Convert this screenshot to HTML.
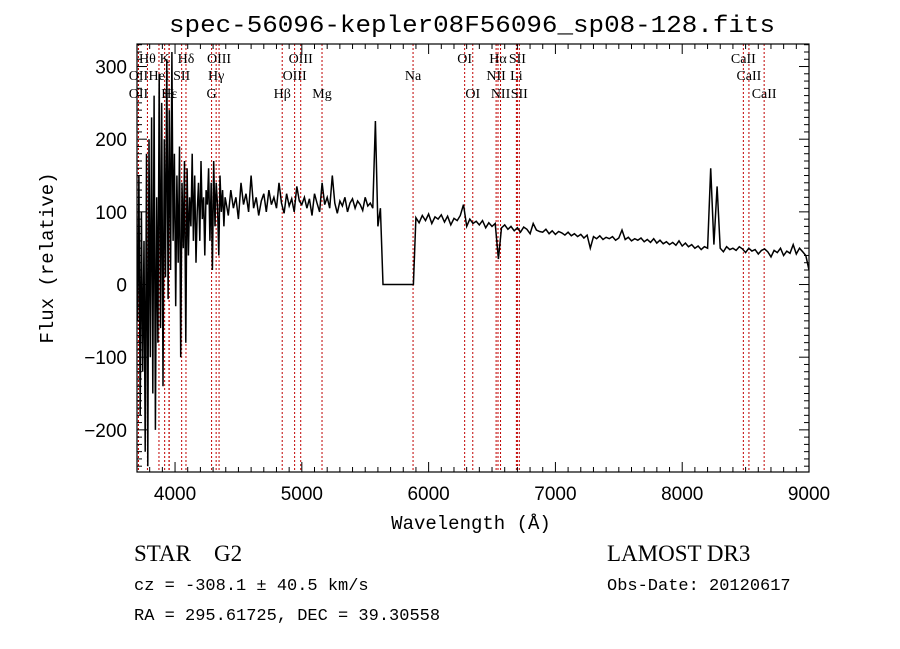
<!DOCTYPE html>
<html><head><meta charset="utf-8"><style>
html,body{margin:0;padding:0;background:#fff;}
svg{display:block;}
</style></head><body>
<svg id="chart" width="900" height="649" xmlns="http://www.w3.org/2000/svg" font-family="Liberation Serif, serif">
<rect width="900" height="649" fill="#fff"/>
<text x="472" y="32" text-anchor="middle" font-family="Liberation Mono, monospace" font-size="24" textLength="606" lengthAdjust="spacingAndGlyphs">spec-56096-kepler08F56096_sp08-128.fits</text>
<g id="lines"></g>
<g id="labels" font-size="14"></g>
<clipPath id="clip"><rect x="137" y="44" width="672" height="428"/></clipPath>
<polyline id="spec" fill="none" stroke="#000" stroke-width="1.5" clip-path="url(#clip)"/>
<rect x="137" y="44" width="672" height="428" fill="none" stroke="#000" stroke-width="1.2"/>
<g id="ticks" stroke="#000" stroke-width="1"></g>
<g id="ticklabels" font-family="Liberation Sans, sans-serif" font-size="19"></g>
<text x="471" y="529" text-anchor="middle" font-family="Liberation Mono, monospace" font-size="19">Wavelength (Å)</text>
<text transform="translate(53,258) rotate(-90)" text-anchor="middle" font-family="Liberation Mono, monospace" font-size="19">Flux (relative)</text>
<text x="134" y="561" font-size="23">STAR</text>
<text x="214" y="561" font-size="23">G2</text>
<text x="607" y="561" font-size="23">LAMOST DR3</text>
<text x="134" y="590" font-family="Liberation Mono, monospace" font-size="17">cz = -308.1 ± 40.5 km/s</text>
<text x="607" y="590" font-family="Liberation Mono, monospace" font-size="17">Obs-Date: 20120617</text>
<text x="134" y="620" font-family="Liberation Mono, monospace" font-size="17">RA = 295.61725, DEC =  39.30558</text>
</svg>
<script>
const blueStart=3705, blueStep=10;
const blueFlux=[-50,150,-180,100,-120,60,-230,180,-250,200,-100,230,-150,260,-200,120,-80,290,-60,250,-140,200,10,310,-20,240,20,320,60,180,-30,150,30,190,-100,140,50,170,-80,160,40,120,80,180,60,150,30,100,140,60,170,90,120,40,130,110,160,60,140,20,170,80,140,110,40,150,100,130,80,120];
const midStart=4400, midStep=20;
const midFlux=[115,95,130,105,120,90,140,110,125,100,150,105,120,95,115,125,100,130,110,120,105,140,112,98,125,108,118,100,135,115,110,120,105,118,95,125,112,100,140,110,120,105,150,112,98,115,108,120,100,112,118,105,115,110,102,120,108,112,105,225,80,105,0,0,0,0,0,0,0,0,0,0,0,0,0];
const redStart=5900, redStep=25;
const redFlux=[92,85,95,88,97,84,93,90,96,86,94,82,91,88,95,110,80,90,84,87,82,88,78,85,80,84,35,78,82,76,80,74,78,72,79,76,70,84,75,73,72,76,70,74,69,73,71,68,72,67,70,66,69,64,68,50,66,63,67,62,65,63,66,61,64,75,62,65,60,63,61,64,59,62,58,63,57,61,56,59,55,58,54,60,53,57,52,55,50,53,48,52,50,160,55,135,50,45,52,48,50,47,52,49,44,50,46,48,42,47,49,45,38,47,44,50,40,46,43,55,42,50,45,40,20];
const xTicks=[4000,5000,6000,7000,8000,9000];
const yTicks=[-200,-100,0,100,200,300];
const lineWaves=[3798,3934,4102,4363,5007,6300,6563,6716,8498,3727,3889,4068,4340,4959,5893,6548,6708,8542,3727,3970,3968,4304,4861,5175,6364,6583,6731,8662];
const lineNames=["Hθ","K","Hδ","OIII","OIII","OI","Hα","SII","CaII","OII","HeI","SII","Hγ","OIII","Na","NII","Li","CaII","OII","Hε","H","G","Hβ","Mg","OI","NII","SII","CaII"];
const lineRows=[0,0,0,0,0,0,0,0,0,1,1,1,1,1,1,1,1,1,2,2,2,2,2,2,2,2,2,2];

const X0=137,X1=809,Y0=44,Y1=472,XMIN=3700,XMAX=9000,YMIN=-258,YMAX=331;
const sx=w=>X0+(w-XMIN)/(XMAX-XMIN)*(X1-X0);
const sy=f=>Y1-(f-YMIN)/(YMAX-YMIN)*(Y1-Y0);
const NS='http://www.w3.org/2000/svg';
function mk(tag,attrs,parent){const e=document.createElementNS(NS,tag);for(const k in attrs)e.setAttribute(k,attrs[k]);parent.appendChild(e);return e;}

const pts=[];
blueFlux.forEach((f,i)=>pts.push(sx(blueStart+i*blueStep).toFixed(1)+','+sy(f).toFixed(1)));
midFlux.forEach((f,i)=>pts.push(sx(midStart+i*midStep).toFixed(1)+','+sy(f).toFixed(1)));
redFlux.forEach((f,i)=>pts.push(sx(redStart+i*redStep).toFixed(1)+','+sy(f).toFixed(1)));
document.getElementById('spec').setAttribute('points',pts.join(' '));

const lg=document.getElementById('lines'), lb=document.getElementById('labels');
const rowY=[63,80,98];
lineWaves.forEach((w,i)=>{
  const x=sx(w)-2;
  const l=mk('line',{x1:x,x2:x,y1:Y0,y2:Y1,stroke:'#c00000','stroke-width':1,'stroke-dasharray':'2,2'},lg);
  
  
  const t=mk('text',{x:x,y:rowY[lineRows[i]],'text-anchor':'middle'},lb);
  t.textContent=lineNames[i];
  
  
});

const tg=document.getElementById('ticks'), tl=document.getElementById('ticklabels');
for(let w=3800;w<=9000;w+=100){
  const x=sx(w), L=(w%1000===0)?10:5;
  mk('line',{x1:x,x2:x,y1:Y1,y2:Y1-L},tg);
  mk('line',{x1:x,x2:x,y1:Y0,y2:Y0+L},tg);
}
for(let f=-250;f<=330;f+=10){
  const y=sy(f), L=(f%100===0)?10:5;
  mk('line',{x1:X0,x2:X0+L,y1:y,y2:y},tg);
  mk('line',{x1:X1,x2:X1-L,y1:y,y2:y},tg);
}
xTicks.forEach(v=>{
  const t=mk('text',{x:sx(v),y:Y1+28,'text-anchor':'middle'},tl);
  t.textContent=v;
  
  
});
yTicks.forEach(v=>{
  const t=mk('text',{x:X0-10,y:sy(v)+7,'text-anchor':'end'},tl);
  t.textContent=v<0?'−'+Math.abs(v):v;
  
  
});
</script>
</body></html>
